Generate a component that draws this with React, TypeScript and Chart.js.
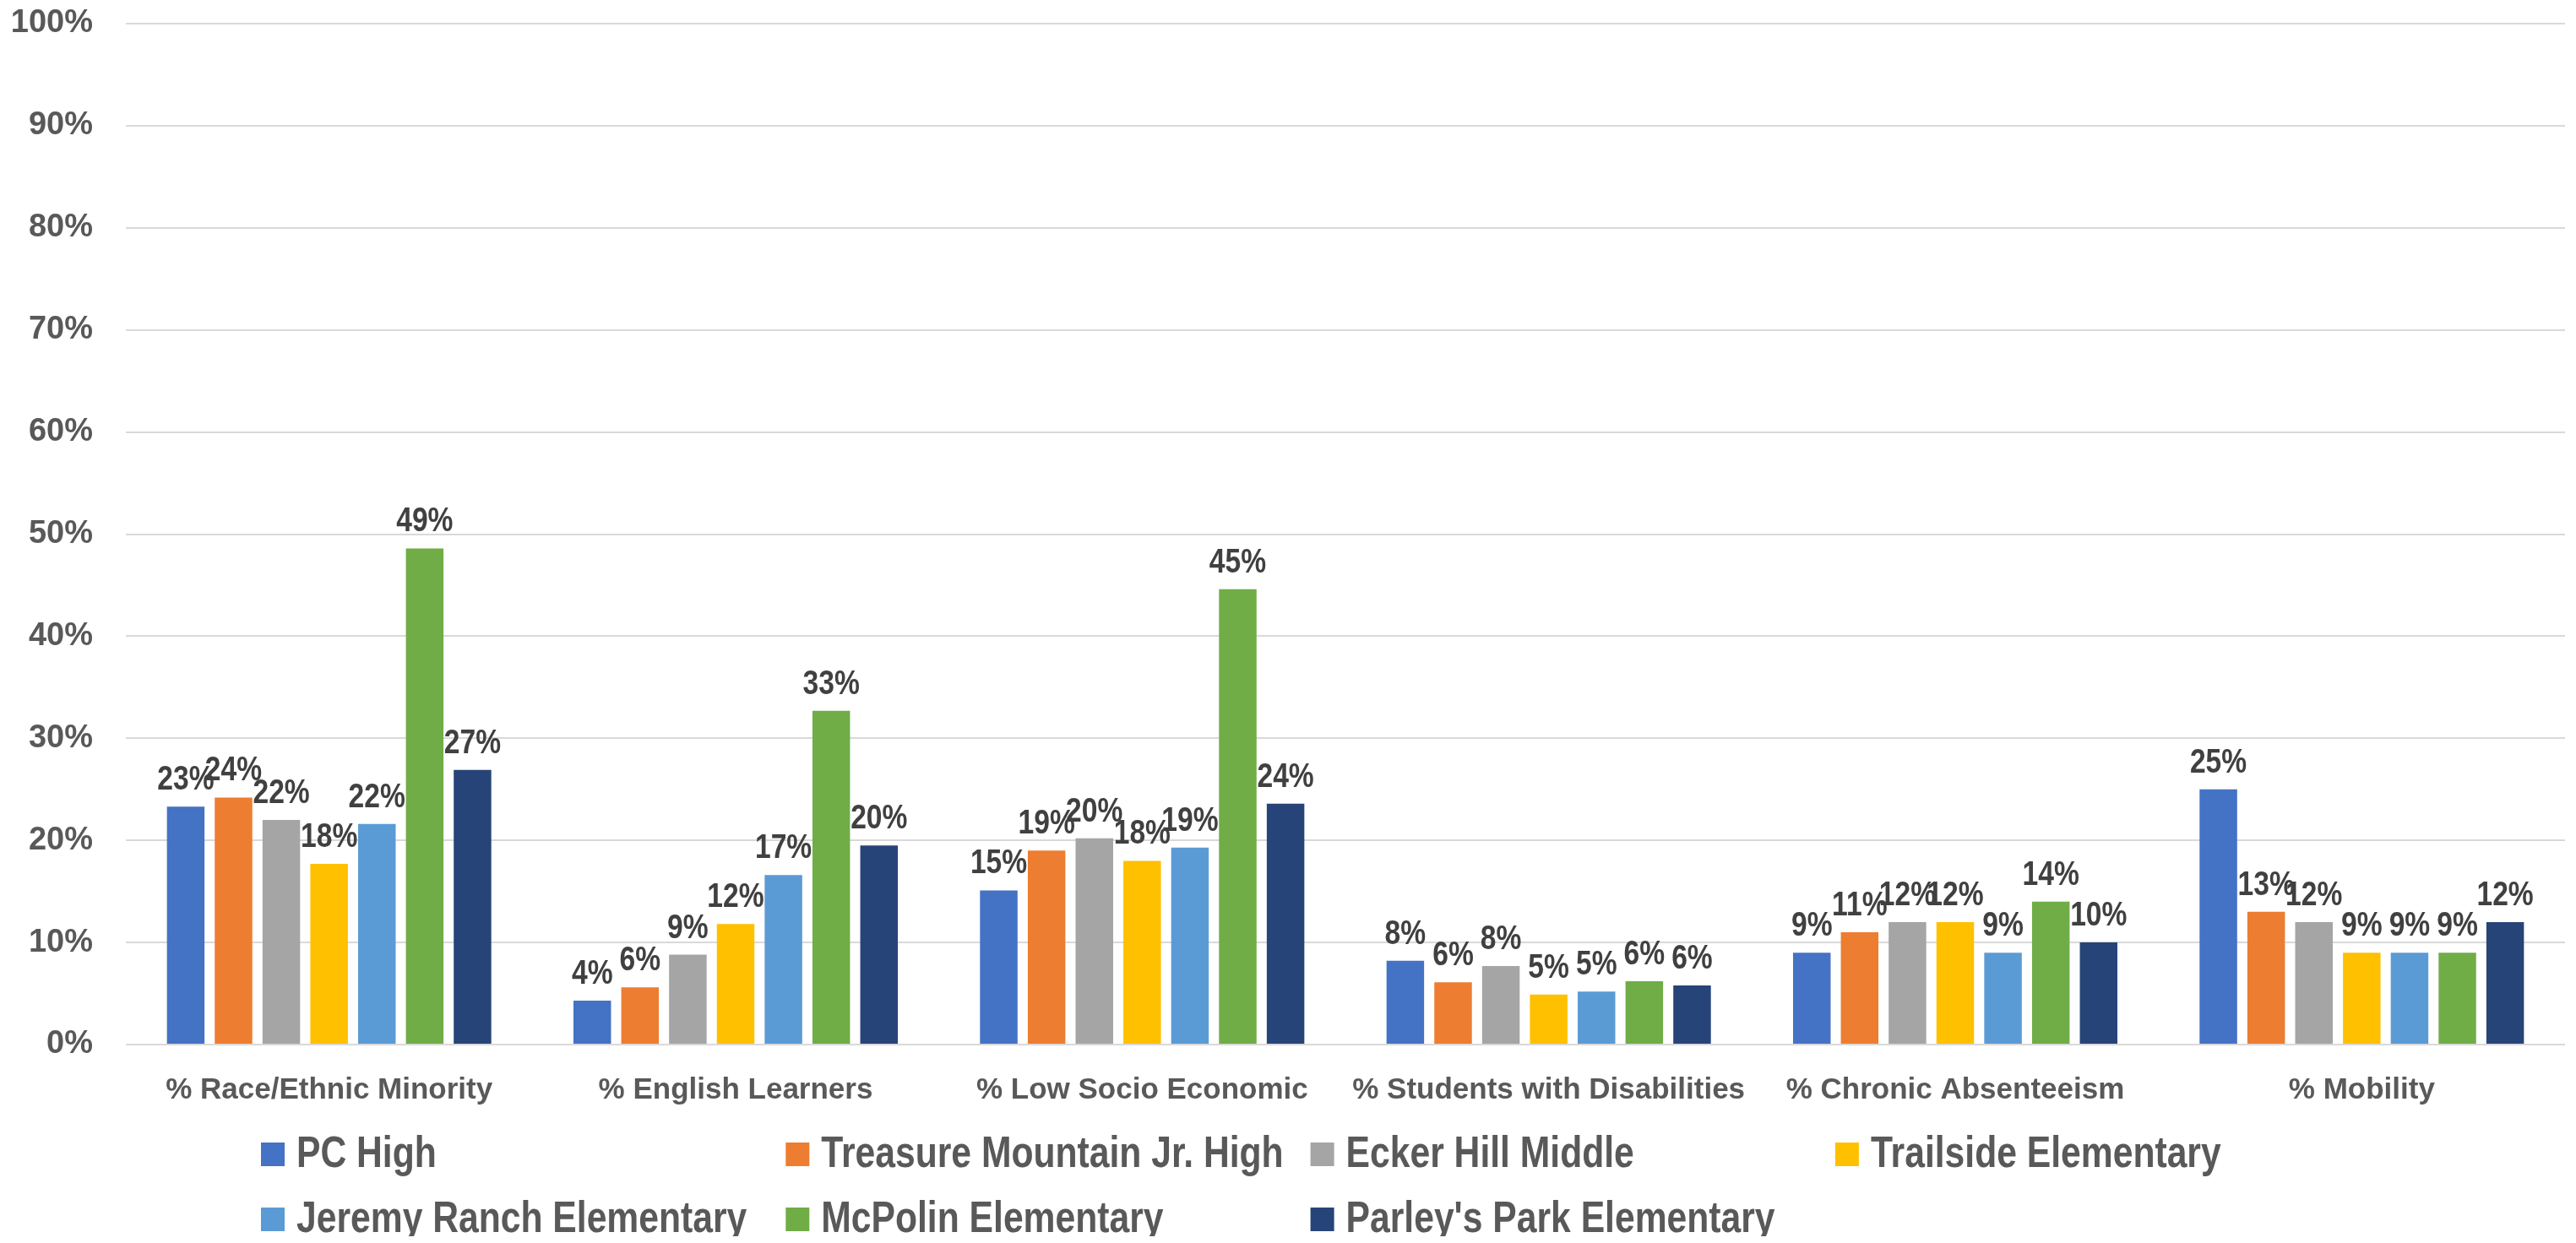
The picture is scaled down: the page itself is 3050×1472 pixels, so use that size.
import React, { useEffect, useRef } from "react";
import { Chart, registerables } from "chart.js";

Chart.register(...registerables);

// ---------- data ----------
const categories = [
  "% Race/Ethnic Minority",
  "% English Learners",
  "% Low Socio Economic",
  "% Students with Disabilities",
  "% Chronic Absenteeism",
  "% Mobility",
];

const schools = [
  "PC High",
  "Treasure Mountain Jr. High",
  "Ecker Hill Middle",
  "Trailside Elementary",
  "Jeremy Ranch Elementary",
  "McPolin Elementary",
  "Parley's Park Elementary",
];

const pcHigh = [0.233, 0.043, 0.151, 0.082, 0.09, 0.25];
const treasureMountain = [0.242, 0.056, 0.19, 0.061, 0.11, 0.13];
const eckerHill = [0.22, 0.088, 0.202, 0.077, 0.12, 0.12];
const trailside = [0.177, 0.118, 0.18, 0.049, 0.12, 0.09];
const jeremyRanch = [0.216, 0.166, 0.193, 0.052, 0.09, 0.09];
const mcPolin = [0.486, 0.327, 0.446, 0.062, 0.14, 0.09];
const parleysPark = [0.269, 0.195, 0.236, 0.058, 0.1, 0.12];

const seriesValues = [pcHigh, treasureMountain, eckerHill, trailside, jeremyRanch, mcPolin, parleysPark];

const colors = ["#4472C4", "#ED7D31", "#A5A5A5", "#FFC000", "#5B9BD5", "#70AD47", "#264478"];

const yMax = 1;
const yStep = 0.1;

// ---------- styles ----------
const FONT = '"Liberation Sans", Arial, sans-serif';
const NARROW_SCALE = 0.82; // emulate a narrow bold face
const AXIS_COLOR = "#595959";
const LABEL_COLOR = "#404040";
const GRID_COLOR = "#D9D9D9";

const pct = (v: number) => Math.round(v * 100) + "%";

function narrowText(ctx: CanvasRenderingContext2D, text: string, x: number, y: number) {
  ctx.save();
  ctx.translate(x, y);
  ctx.scale(NARROW_SCALE, 1);
  ctx.fillText(text, 0, 0);
  ctx.restore();
}

const valueLabelPlugin = {
  id: "valueLabels",
  afterDatasetsDraw(chart: any) {
    const ctx = chart.ctx;
    ctx.save();
    ctx.font = `bold 41px ${FONT}`;
    ctx.fillStyle = LABEL_COLOR;
    ctx.textAlign = "center";
    ctx.textBaseline = "alphabetic";
    chart.data.datasets.forEach((ds: any, i: number) => {
      const meta = chart.getDatasetMeta(i);
      if (meta.hidden) return;
      meta.data.forEach((el: any, j: number) => {
        narrowText(ctx, pct(ds.data[j]), el.x, el.y - 20);
      });
    });
    ctx.restore();
  },
};

const gridLegendPlugin = {
  id: "gridLegend",
  afterDraw(chart: any, _args: any, opts: any) {
    const ctx = chart.ctx;
    const { startX, colWidth, columns, rowCenters, box, textGap, fontSize } = opts;
    ctx.save();
    ctx.font = `bold ${fontSize}px ${FONT}`;
    ctx.textAlign = "left";
    ctx.textBaseline = "middle";
    chart.data.datasets.forEach((ds: any, i: number) => {
      const col = i % columns;
      const row = Math.floor(i / columns);
      const x = startX + col * colWidth;
      const cy = rowCenters[row];
      ctx.fillStyle = ds.backgroundColor;
      ctx.fillRect(x, cy - box / 2, box, box);
      ctx.fillStyle = AXIS_COLOR;
      narrowText(ctx, ds.label, x + box + textGap, cy + 1);
    });
    ctx.restore();
  },
};

export default function App() {
  const canvasRef = useRef<HTMLCanvasElement | null>(null);

  useEffect(() => {
    if (!canvasRef.current) return;
    const chart = new Chart(canvasRef.current, {
      type: "bar",
      data: {
        labels: categories,
        datasets: schools.map((name, i) => ({
          label: name,
          data: seriesValues[i],
          backgroundColor: colors[i],
          borderWidth: 0,
          categoryPercentage: 0.823,
          barPercentage: 0.786,
        })),
      },
      options: {
        responsive: true,
        maintainAspectRatio: false,
        animation: false,
        layout: { padding: { top: 20, left: 0, right: 5, bottom: 160 } },
        plugins: {
          legend: { display: false },
          tooltip: { enabled: false },
          gridLegend: {
            startX: 301,
            colWidth: 621.3,
            columns: 4,
            rowCenters: [1359, 1436],
            box: 28,
            textGap: 14,
            fontSize: 52,
          },
        } as any,
        scales: {
          x: {
            grid: { display: false, drawTicks: false },
            border: { display: false },
            afterFit: (scale: any) => {
              scale.height = 75;
              scale.paddingLeft = 0;
              scale.paddingRight = 0;
            },
            ticks: {
              color: AXIS_COLOR,
              font: { family: FONT, size: 35, weight: "bold", lineHeight: 1.2 },
              padding: 33,
              maxRotation: 0,
              autoSkip: false,
            },
          },
          y: {
            min: 0,
            max: yMax,
            afterFit: (scale: any) => {
              scale.width = 141;
              scale.paddingTop = 0;
              scale.paddingBottom = 0;
            },
            grid: { color: GRID_COLOR, lineWidth: 2, drawTicks: false },
            border: { display: false },
            ticks: {
              stepSize: yStep,
              color: AXIS_COLOR,
              font: { family: FONT, size: 38, weight: "bold", lineHeight: 1.0 },
              padding: 39,
              callback: (v: any) => pct(Number(v)),
            },
          },
        },
      },
      plugins: [valueLabelPlugin, gridLegendPlugin],
    });
    return () => chart.destroy();
  }, []);

  return (
    <div style={{ width: 3034, height: 1464, marginBottom: -8, position: "relative" }}>
      <canvas ref={canvasRef} />
    </div>
  );
}
